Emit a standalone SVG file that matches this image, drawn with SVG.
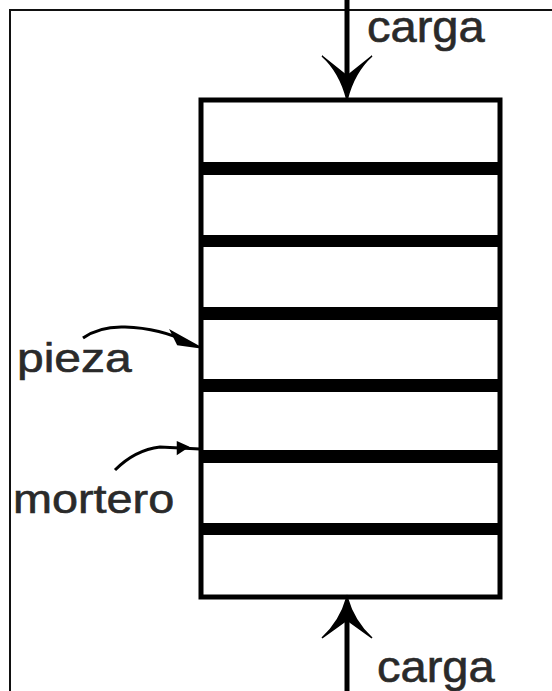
<svg xmlns="http://www.w3.org/2000/svg" width="552" height="691" viewBox="0 0 552 691">
  <style>
    .lbl { font-family: "Liberation Sans", Arial, sans-serif; fill: #2a2a2a; stroke: #2a2a2a; stroke-width: 0.6; }
    .edge { fill: none; stroke: #000; }
    .joint { fill: #000; }
  </style>
  <rect x="0" y="0" width="552" height="691" fill="#fff"/>
  <!-- frame (top and left sides) -->
  <path d="M10,691 V10 H552" fill="none" stroke="#111" stroke-width="2"/>

  <!-- masonry prism -->
  <g id="prism">
    <rect x="201" y="100" width="299" height="497" fill="#fff" stroke="#000" stroke-width="5"/>
    <rect class="joint" x="201" y="162" width="299" height="13"/>
    <rect class="joint" x="201" y="235" width="299" height="12"/>
    <rect class="joint" x="201" y="307" width="299" height="13"/>
    <rect class="joint" x="201" y="379" width="299" height="13"/>
    <rect class="joint" x="201" y="450" width="299" height="13"/>
    <rect class="joint" x="201" y="523" width="299" height="12"/>
  </g>

  <g id="labels">
    <text class="lbl" transform="translate(367,42) scale(1.07,1)" font-size="44">carga</text>
    <text class="lbl" transform="translate(377,682) scale(1.07,1)" font-size="44">carga</text>
    <text class="lbl" transform="translate(17,372) scale(1.2,1)" font-size="40">pieza</text>
    <text class="lbl" transform="translate(13,513) scale(1.17,1)" font-size="40">mortero</text>
  </g>

  <g id="connectors">
    <!-- load arrows -->
    <line class="edge" x1="347" y1="0" x2="347" y2="80" stroke-width="5"/>
    <path d="M322,56 Q340,72 347,100 Q354,72 372,56 L347,76 Z" fill="#000" stroke="#000" stroke-width="1.5"/>
    <line class="edge" x1="347" y1="691" x2="347" y2="617" stroke-width="5"/>
    <path d="M322,638 Q340,622 347,597 Q354,622 372,638 L347,620 Z" fill="#000" stroke="#000" stroke-width="1.5"/>
    <!-- label leaders -->
    <path class="edge" d="M83,338 Q100,326 125,327 Q160,328 190,343" stroke-width="3"/>
    <path d="M172,332 L199,347 L178,344 Z" fill="#000" stroke="#000" stroke-width="2.5"/>
    <path class="edge" d="M115,470 Q135,450 160,447 L200,449" stroke-width="3"/>
    <path d="M178,443 L187,447 L178,453 Z" fill="#000" stroke="#000" stroke-width="2.5"/>
  </g>
</svg>
